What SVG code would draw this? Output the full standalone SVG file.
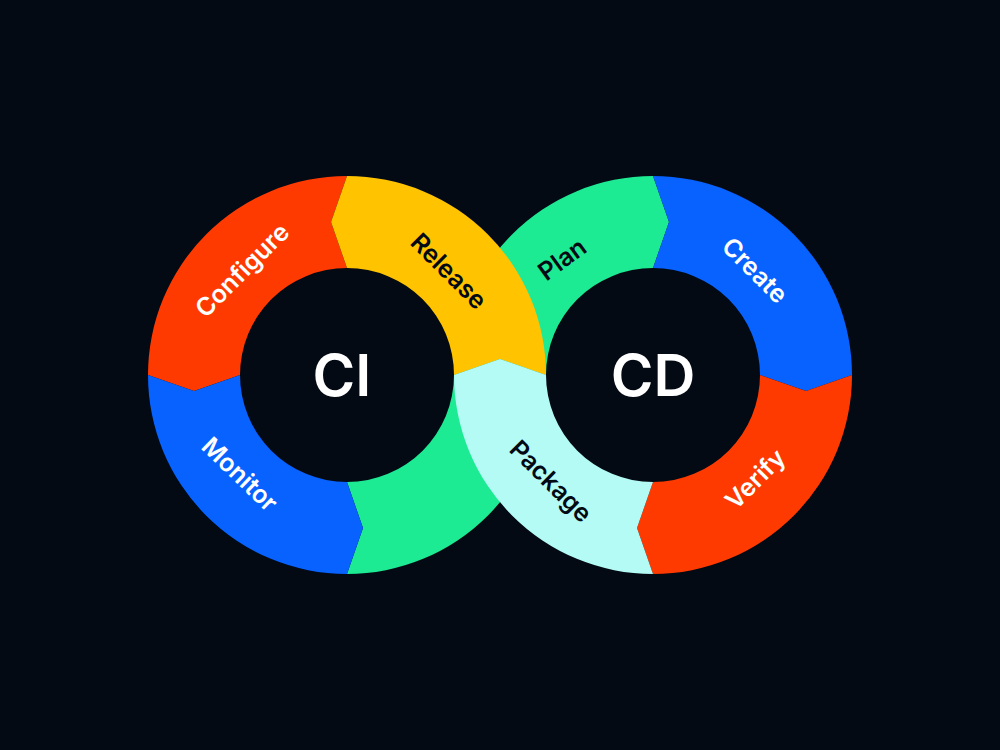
<svg xmlns="http://www.w3.org/2000/svg" width="1000" height="750" viewBox="0 0 1000 750">
  <style>
    .lbl { font-family: Inter, "Noto Sans", "Liberation Sans", sans-serif; font-size: 25px; font-weight: 600; text-anchor: middle; dominant-baseline: central; }
    .big { font-family: Inter, "Noto Sans", "Liberation Sans", sans-serif; font-size: 58px; font-weight: 600; text-anchor: middle; fill: #ffffff; }
    .w { fill: #ffffff; }
    .k { fill: #030A14; }
    .red { fill: #FF3A00; }
    .yel { fill: #FFC300; }
    .grn { fill: #1DEB93; }
    .blu { fill: #0862FF; }
    .cyn { fill: #B4FBF6; }
  </style>
  <rect width="1000" height="750" fill="#030A14"/>

  <g id="green-left">
    <path class="grn" d="M 347 574 A 199 199 0 0 0 546 375 L 500 359 L 454 375 A 107 107 0 0 1 347 482 L 363 528 Z"/>
  </g>
  <g id="plan">
    <path class="grn" d="M 454 375 A 199 199 0 0 1 653 176 L 669 222 L 653 268 A 107 107 0 0 0 546 375 L 500 359 Z"/>
  </g>
  <g id="configure">
    <path class="red" d="M 347 176 A 199 199 0 0 0 148 375 L 194 391 L 240 375 A 107 107 0 0 1 347 268 L 331 222 Z"/>
    <text class="lbl w" transform="translate(242 270) rotate(-45)">Configure</text>
  </g>
  <g id="monitor">
    <path class="blu" d="M 148 375 A 199 199 0 0 0 347 574 L 363 528 L 347 482 A 107 107 0 0 1 240 375 L 194 391 Z"/>
    <text class="lbl w" transform="translate(240 474) rotate(44)">Monitor</text>
  </g>
  <g id="create">
    <path class="blu" d="M 653 176 A 199 199 0 0 1 852 375 L 806 391 L 760 375 A 107 107 0 0 0 653 268 L 669 222 Z"/>
    <text class="lbl w" transform="translate(755 270) rotate(45)">Create</text>
  </g>
  <g id="verify">
    <path class="red" d="M 852 375 A 199 199 0 0 1 653 574 L 637 528 L 653 482 A 107 107 0 0 0 760 375 L 806 391 Z"/>
    <text class="lbl w" transform="translate(755 479) rotate(-45)">Verify</text>
  </g>
  <g id="release">
    <path class="yel" d="M 546 375 A 199 199 0 0 0 347 176 L 331 222 L 347 268 A 107 107 0 0 1 454 375 L 500 359 Z"/>
    <text class="lbl k" transform="translate(449 271) rotate(45)">Release</text>
  </g>
  <g id="package">
    <path class="cyn" d="M 653 574 A 199 199 0 0 1 454 375 L 500 359 L 546 375 A 107 107 0 0 0 653 482 L 637 528 Z"/>
    <text class="lbl k" transform="translate(551 481) rotate(45)">Package</text>
  </g>
  <g id="plan-label">
    <text class="lbl k" transform="translate(562 259) rotate(-36)">Plan</text>
  </g>

  <g id="ci">
    <text class="big" x="342" y="396">CI</text>
  </g>
  <g id="cd">
    <text class="big" x="653" y="396">CD</text>
  </g>
  <g id="connectors"></g>
</svg>
